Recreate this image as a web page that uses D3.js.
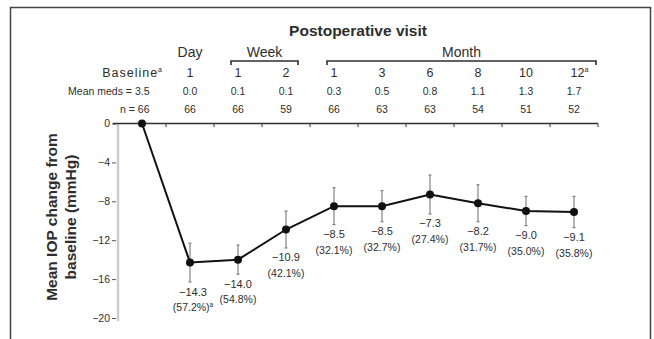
<!DOCTYPE html>
<html>
<head>
<meta charset="utf-8">
<script src="https://cdn.jsdelivr.net/npm/d3@7"></script>
<style>
  body { margin: 0; background: #fff; }
  svg { display: block; font-family: "Liberation Sans", Arial, sans-serif; }
</style>
</head>
<body>
<svg id="chart" width="654" height="339"></svg>
<script>
// visits along the x axis
const visits = ["Baseline", "Day 1", "Week 1", "Week 2", "Month 1", "Month 3", "Month 6", "Month 8", "Month 10", "Month 12"];
const visitLabels = ["Baseline", "1", "1", "2", "1", "3", "6", "8", "10", "12"];
const meanMeds = ["3.5", "0.0", "0.1", "0.1", "0.3", "0.5", "0.8", "1.1", "1.3", "1.7"];
const nPatients = ["66", "66", "66", "59", "66", "63", "63", "54", "51", "52"];
// mean IOP change from baseline (mmHg) and error bar half-width
const meanChange = [0, -14.3, -14.0, -10.9, -8.5, -8.5, -7.3, -8.2, -9.0, -9.1];
const errHalf = [0, 2.0, 1.5, 1.9, 1.9, 1.6, 2.0, 1.9, 1.5, 1.6];
const pctChange = [null, "57.2%", "54.8%", "42.1%", "32.1%", "32.7%", "27.4%", "31.7%", "35.0%", "35.8%"];
const yTicks = [0, -4, -8, -12, -16, -20];
const groups = [
  { name: "Day", from: "Day 1", to: "Day 1", bracket: false },
  { name: "Week", from: "Week 1", to: "Week 2", bracket: true },
  { name: "Month", from: "Month 1", to: "Month 12", bracket: true }
];

const svg = d3.select("#chart");
const ink = "#2e2e2e";

// frame
svg.append("rect")
  .attr("x", 10.5).attr("y", 7.5)
  .attr("width", 640).attr("height", 345)
  .attr("fill", "none").attr("stroke", "#444").attr("stroke-width", 1.5);

const x = d3.scaleBand().domain(visits).range([118, 598]);
const xc = d => x(d) + x.bandwidth() / 2;
const y = d3.scaleLinear().domain([-20, 0]).range([318, 123.5]);

// y axis
const yAxis = svg.append("g")
  .attr("transform", "translate(118,0)")
  .call(d3.axisLeft(y).tickValues(yTicks).tickSize(4).tickSizeOuter(0).tickPadding(4));
yAxis.select(".domain").attr("stroke", "#ccc").attr("stroke-width", 2.5).attr("d", "M0," + y(0) + "V" + (y(-20) + 3));
yAxis.selectAll(".tick line").attr("stroke", "#555").attr("transform", "translate(-2,0)");
yAxis.selectAll(".tick text").attr("font-size", 10.5).attr("fill", ink);

// zero line with ticks between visits
svg.append("line")
  .attr("x1", 113).attr("x2", 598)
  .attr("y1", y(0)).attr("y2", y(0))
  .attr("stroke", ink).attr("stroke-width", 1.6);
svg.append("g").selectAll("line")
  .data(visits)
  .join("line")
  .attr("x1", d => x(d) + x.bandwidth())
  .attr("x2", d => x(d) + x.bandwidth())
  .attr("y1", y(0)).attr("y2", y(0) + 3.5)
  .attr("stroke", ink).attr("stroke-width", 1);

// header
svg.append("text")
  .attr("x", 358).attr("y", 36)
  .attr("text-anchor", "middle")
  .attr("font-size", 15.5).attr("font-weight", "bold").attr("fill", ink)
  .text("Postoperative visit");

groups.forEach(g => {
  const x0 = xc(g.from), x1 = xc(g.to);
  let cx = (x0 + x1) / 2;
  if (g.bracket) {
    const left = x0 - 7, right = x1 + (g.name === "Month" ? 22 : 12);
    cx = (left + right) / 2;
    svg.append("path")
      .attr("d", `M${left},65V61H${right}V65`)
      .attr("fill", "none").attr("stroke", ink).attr("stroke-width", 1.6);
  }
  svg.append("text")
    .attr("x", cx).attr("y", 57)
    .attr("text-anchor", "middle")
    .attr("font-size", 14).attr("fill", ink)
    .text(g.name);
});

// table rows
const row1 = svg.append("g").attr("font-size", 12.5).attr("fill", ink);
visitLabels.forEach((t, i) => {
  if (i === 0) {
    const tx = row1.append("text").attr("x", xc(visits[i]) + 21).attr("y", 77)
      .attr("text-anchor", "end").attr("letter-spacing", 1);
    tx.append("tspan").text(t);
    tx.append("tspan").attr("font-size", 7).attr("dy", -5).text("a");
  } else if (i === visits.length - 1) {
    const tx = row1.append("text").attr("x", xc(visits[i]) - 3.5).attr("y", 77);
    tx.append("tspan").text(t);
    tx.append("tspan").attr("font-size", 7).attr("dy", -5).text("a");
  } else {
    row1.append("text").attr("x", xc(visits[i])).attr("y", 77)
      .attr("text-anchor", "middle").text(t);
  }
});

const row2 = svg.append("g").attr("font-size", 10.5).attr("fill", ink);
row2.selectAll("text").data(meanMeds).join("text")
  .attr("x", (d, i) => i === 0 ? xc(visits[i]) + 7.5 : xc(visits[i]))
  .attr("y", 94.5)
  .attr("text-anchor", (d, i) => i === 0 ? "end" : "middle")
  .text((d, i) => i === 0 ? "Mean meds = " + d : d);

const row3 = svg.append("g").attr("font-size", 10.5).attr("fill", ink);
row3.selectAll("text").data(nPatients).join("text")
  .attr("x", (d, i) => i === 0 ? xc(visits[i]) + 7.5 : xc(visits[i]))
  .attr("y", 112.5)
  .attr("text-anchor", (d, i) => i === 0 ? "end" : "middle")
  .text((d, i) => i === 0 ? "n = " + d : d);

// y axis title
svg.append("text")
  .attr("transform", "rotate(-90)")
  .attr("text-anchor", "middle")
  .attr("font-size", 15.5).attr("font-weight", "bold").attr("fill", ink)
  .selectAll("tspan")
  .data(["Mean IOP change from", "baseline (mmHg)"])
  .join("tspan")
  .attr("x", -217)
  .attr("y", (d, i) => 57 + i * 18.5)
  .text(d => d);

// error bars
const pts = visits.map((v, i) => ({ v, m: meanChange[i], e: errHalf[i], p: pctChange[i] }));
const eb = svg.append("g").attr("stroke", "#777").attr("stroke-width", 1.1);
pts.filter(d => d.e > 0).forEach(d => {
  const cx = xc(d.v);
  eb.append("line").attr("x1", cx).attr("x2", cx).attr("y1", y(d.m + d.e)).attr("y2", y(d.m - d.e));
  eb.append("line").attr("x1", cx - 1.5).attr("x2", cx + 1.5).attr("y1", y(d.m + d.e)).attr("y2", y(d.m + d.e));
  eb.append("line").attr("x1", cx - 1.5).attr("x2", cx + 1.5).attr("y1", y(d.m - d.e)).attr("y2", y(d.m - d.e));
});

// line and points
svg.append("path")
  .datum(pts)
  .attr("fill", "none").attr("stroke", "#111").attr("stroke-width", 2)
  .attr("d", d3.line().x(d => xc(d.v)).y(d => y(d.m)));
svg.append("g").selectAll("circle").data(pts).join("circle")
  .attr("cx", d => xc(d.v)).attr("cy", d => y(d.m))
  .attr("r", 4).attr("fill", "#111");

// value labels below error bars
const lab = svg.append("g").attr("fill", ink).attr("text-anchor", "middle");
pts.filter(d => d.p).forEach((d, k) => {
  const base = y(d.m - d.e);
  const cx = xc(d.v) + (k === 0 ? 3 : 0);
  lab.append("text").attr("x", cx).attr("y", base + 13.5).attr("font-size", 11)
    .text(d3.format(".1f")(d.m).replace("-", "\u2212"));
  const t = lab.append("text").attr("x", cx).attr("y", base + 29).attr("font-size", 10.5);
  t.append("tspan").text("(" + d.p + ")");
  if (k === 0) t.append("tspan").attr("font-size", 6.5).attr("dy", -4).text("a");
});
</script>
</body>
</html>
